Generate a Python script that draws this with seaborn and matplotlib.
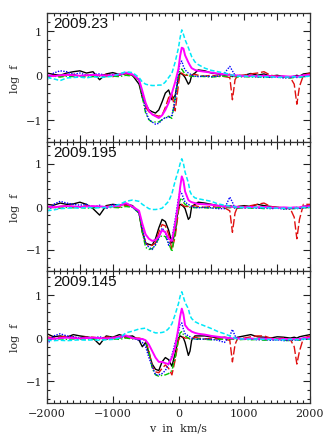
import matplotlib
matplotlib.use("Agg")
import matplotlib.pyplot as plt
from matplotlib.ticker import MultipleLocator, FixedLocator
import seaborn as sns

sns.set_style("ticks")
plt.rcParams['font.family'] = ['DejaVu Serif']

# velocity grid (km/s)
velocity = [-2000, -1900, -1800, -1700, -1600, -1500, -1400, -1300, -1200, -1100, -1000, -900, -800, -700, -600,
            -550, -500, -450, -400, -350, -300, -250, -200, -150, -100, -50,
            0, 25, 50, 75, 100,
            150, 175, 200, 250, 300,
            400, 500, 600, 700,
            780, 820, 860, 900,
            1000, 1100, 1200, 1300, 1400, 1500, 1600, 1700,
            1760, 1800, 1840, 1900, 2000]

epochs = ["2009.23", "2009.195", "2009.145"]

# ---- 2009.23 ----
p1_black = [0.05,0.02,0.00,0.05,0.08,0.10,0.05,0.08,-0.10,0.03,0.06,0.02,0.05,0.00,-0.20,
            -0.50,-0.65,-0.78,-0.82,-0.85,-0.78,-0.60,-0.40,-0.33,-0.55,-0.45,
            -0.05,0.05,0.03,0.00,-0.05,
            -0.20,-0.15,0.00,0.05,0.12,
            0.10,0.05,0.03,0.00,
            0.02,-0.03,0.00,-0.02,
            0.00,0.04,0.00,0.03,-0.02,0.00,-0.03,-0.05,
            -0.02,0.00,-0.02,0.03,0.05]
p1_red = [-0.02,0.00,-0.03,0.00,0.02,-0.02,0.00,-0.02,0.00,0.02,-0.03,0.00,0.03,0.00,-0.10,
          -0.45,-0.72,-0.82,-0.88,-0.90,-0.92,-0.90,-0.72,-0.50,-0.43,-0.80,
          -0.20,0.05,0.05,0.02,0.00,
          0.00,-0.02,0.00,0.02,0.00,
          -0.02,0.00,-0.02,-0.03,
          -0.05,-0.55,-0.10,0.00,
          0.00,0.03,0.05,0.08,0.00,-0.02,-0.03,-0.05,
          -0.20,-0.65,-0.25,0.00,0.05]
p1_green = [-0.03,-0.02,-0.04,-0.02,-0.03,-0.02,-0.04,-0.03,-0.02,-0.03,-0.02,-0.03,0.00,-0.02,-0.10,
            -0.50,-0.85,-1.00,-1.05,-1.05,-1.05,-1.00,-0.95,-0.92,-0.97,-0.50,
            0.00,0.12,0.14,0.08,0.03,
            0.00,-0.02,-0.02,-0.03,-0.02,
            -0.03,-0.04,-0.03,-0.02,
            -0.03,-0.02,-0.03,-0.04,
            -0.03,-0.04,-0.03,-0.05,-0.04,-0.03,-0.05,-0.06,
            -0.05,-0.04,-0.05,-0.03,-0.02]
p1_blue = [-0.10,0.05,0.10,0.08,0.02,0.05,0.00,0.02,0.03,0.00,0.02,0.00,0.05,0.02,-0.10,
           -0.40,-0.80,-1.00,-1.05,-1.10,-1.08,-1.00,-0.95,-0.95,-0.90,-0.55,
           0.10,0.28,0.32,0.20,0.12,
           0.05,0.03,0.00,-0.02,-0.03,
           -0.02,-0.03,-0.02,0.05,
           0.20,0.10,0.00,-0.02,
           -0.03,-0.02,-0.04,-0.03,-0.05,-0.04,-0.06,-0.05,
           -0.04,-0.05,-0.04,-0.03,-0.02]
p1_magenta = [0.00,-0.02,0.00,0.01,0.00,-0.01,0.00,0.01,0.00,-0.01,0.00,0.02,0.06,0.02,-0.10,
              -0.35,-0.62,-0.80,-0.88,-0.92,-0.96,-0.90,-0.78,-0.62,-0.40,-0.15,
              0.15,0.44,0.62,0.60,0.45,
              0.29,0.22,0.16,0.12,0.10,
              0.08,0.06,0.04,0.02,
              0.01,0.00,-0.01,0.00,
              -0.02,-0.01,-0.02,-0.01,-0.02,-0.03,-0.02,-0.03,
              -0.02,-0.03,-0.02,0.00,0.01]
p1_cyan = [-0.05,-0.08,-0.12,-0.06,-0.05,-0.04,-0.06,-0.03,-0.05,-0.04,-0.02,0.03,0.08,0.06,-0.05,
           -0.15,-0.20,-0.22,-0.23,-0.23,-0.22,-0.22,-0.15,-0.05,0.05,0.30,
           0.62,0.85,1.02,0.92,0.80,
           0.62,0.52,0.42,0.30,0.24,
           0.16,0.11,0.08,0.05,
           0.02,0.00,0.00,-0.02,
           -0.02,-0.03,-0.02,-0.04,-0.03,-0.05,-0.04,-0.04,
           -0.03,-0.05,-0.04,-0.03,-0.02]

# ---- 2009.195 ----
p2_black = [0.05,0.03,0.08,0.05,0.06,0.10,0.05,-0.05,-0.20,0.02,0.05,0.03,0.06,0.02,-0.15,
            -0.60,-0.85,-0.88,-0.90,-0.75,-0.50,-0.30,-0.35,-0.55,-0.85,-0.60,
            0.00,0.05,0.03,0.00,-0.05,
            -0.30,-0.25,0.00,0.05,0.10,
            0.08,0.05,0.02,0.00,
            0.02,0.00,-0.02,0.00,
            0.02,0.00,0.05,0.02,0.00,-0.02,-0.03,-0.05,
            -0.03,-0.02,-0.04,0.00,0.03]
p2_red = [0.00,-0.02,0.00,0.02,0.00,-0.02,0.02,0.00,-0.02,0.00,0.02,-0.02,0.03,0.00,-0.15,
          -0.55,-0.85,-0.92,-0.90,-0.85,-0.60,-0.42,-0.45,-0.65,-1.00,-0.70,
          -0.10,0.05,0.05,0.02,0.00,
          0.00,-0.02,0.00,0.02,0.00,
          -0.02,0.00,-0.02,-0.03,
          -0.10,-0.60,-0.15,0.00,
          0.00,0.02,0.05,0.08,0.00,-0.02,-0.03,-0.05,
          -0.25,-0.75,-0.30,0.05,0.05]
p2_green = [-0.03,-0.02,-0.04,-0.02,-0.03,-0.02,-0.04,-0.03,-0.02,-0.03,-0.02,-0.03,0.00,-0.02,-0.15,
            -0.60,-0.95,-1.00,-0.98,-0.90,-0.72,-0.68,-0.70,-0.85,-1.05,-0.60,
            0.00,0.15,0.20,0.10,0.05,
            0.00,-0.02,-0.02,-0.03,-0.02,
            -0.03,-0.04,-0.03,-0.02,
            -0.03,-0.02,-0.03,-0.04,
            -0.03,-0.04,-0.03,-0.05,-0.04,-0.03,-0.05,-0.06,
            -0.05,-0.04,-0.05,-0.03,-0.02]
p2_blue = [-0.15,0.05,0.12,0.08,0.05,0.03,0.05,-0.02,0.03,-0.05,0.05,0.02,0.08,-0.02,-0.15,
           -0.50,-0.85,-0.95,-1.00,-0.88,-0.75,-0.50,-0.60,-0.90,-0.75,-0.30,
           0.20,0.35,0.30,0.20,0.10,
           0.05,0.03,0.00,-0.02,-0.03,
           -0.02,-0.03,-0.05,-0.05,
           0.22,0.10,-0.05,-0.02,
           -0.03,-0.02,-0.04,-0.03,-0.05,-0.04,-0.06,-0.05,
           -0.04,-0.05,-0.04,-0.03,-0.02]
p2_magenta = [0.00,-0.02,0.00,0.01,0.00,-0.01,0.00,0.01,0.00,-0.01,0.00,0.02,0.08,0.00,-0.10,
              -0.40,-0.65,-0.75,-0.80,-0.78,-0.70,-0.55,-0.60,-0.75,-0.80,-0.40,
              0.10,0.45,0.70,0.60,0.35,
              0.15,0.12,0.10,0.08,0.06,
              0.05,0.04,0.02,0.00,
              0.00,-0.01,0.00,-0.01,
              -0.02,-0.01,-0.02,-0.01,-0.02,-0.03,-0.02,-0.03,
              -0.02,-0.03,-0.02,0.00,0.01]
p2_cyan = [-0.10,-0.08,-0.05,-0.04,-0.03,-0.04,-0.02,-0.03,-0.03,-0.02,0.00,0.05,0.12,0.15,0.12,
           0.05,0.00,-0.05,-0.07,-0.07,-0.06,-0.04,0.04,0.12,0.30,0.60,
           0.85,1.00,1.11,1.00,0.80,
           0.55,0.35,0.27,0.20,0.18,
           0.15,0.12,0.06,0.03,
           0.01,0.00,-0.01,-0.02,
           -0.02,-0.03,-0.02,-0.03,-0.03,-0.04,-0.04,-0.03,
           -0.03,-0.04,-0.03,-0.02,-0.02]

# ---- 2009.145 ----
p3_black = [0.10,0.03,0.05,0.02,0.08,0.05,0.03,0.00,-0.15,0.05,0.02,0.08,0.03,0.05,-0.05,
            -0.20,-0.10,-0.35,-0.60,-0.72,-0.75,-0.55,-0.45,-0.50,-0.65,-0.35,
            0.00,0.05,0.03,0.00,-0.10,
            -0.40,-0.30,-0.05,0.05,0.05,
            0.05,0.03,0.00,0.02,
            0.00,-0.02,0.00,0.02,
            0.05,0.08,0.03,0.02,0.00,0.03,0.02,0.00,
            0.02,0.00,0.03,0.05,0.08]
p3_red = [0.03,0.00,0.02,0.05,0.02,0.00,0.03,0.02,0.00,0.02,0.03,0.00,0.02,0.00,0.00,
          -0.02,-0.05,-0.30,-0.65,-0.78,-0.80,-0.70,-0.62,-0.70,-0.85,-0.50,
          -0.05,0.02,0.03,0.02,0.00,
          0.00,-0.02,0.00,0.02,0.00,
          -0.02,0.00,-0.02,-0.03,
          -0.05,-0.55,-0.15,0.00,
          0.00,0.03,0.05,0.05,0.00,-0.02,0.00,-0.03,
          -0.20,-0.60,-0.30,0.00,0.05]
p3_green = [-0.02,-0.03,-0.02,-0.03,-0.02,-0.03,-0.02,-0.03,-0.02,-0.03,-0.02,-0.03,0.00,-0.02,-0.03,
            -0.03,-0.05,-0.30,-0.70,-0.85,-0.88,-0.86,-0.85,-0.82,-0.75,-0.45,
            0.00,0.12,0.15,0.08,0.05,
            0.00,-0.02,-0.02,-0.03,-0.02,
            -0.03,-0.04,-0.03,-0.02,
            -0.03,-0.02,-0.03,-0.04,
            -0.03,-0.04,-0.03,-0.05,-0.04,-0.03,-0.05,-0.06,
            -0.05,-0.04,-0.05,-0.03,-0.02]
p3_blue = [-0.15,0.05,0.10,0.05,0.03,0.00,0.02,0.00,0.03,-0.02,0.02,0.00,0.05,0.00,-0.05,
           -0.10,-0.20,-0.45,-0.65,-0.85,-0.85,-0.82,-0.75,-0.60,-0.40,-0.10,
           0.15,0.32,0.35,0.20,0.10,
           0.05,0.03,0.00,-0.02,-0.03,
           -0.02,-0.03,-0.05,-0.10,
           0.05,0.20,0.05,0.00,
           -0.03,-0.02,-0.04,-0.03,-0.05,-0.04,-0.06,-0.05,
           -0.04,-0.05,-0.04,-0.03,-0.02]
p3_magenta = [0.00,-0.02,0.00,0.01,0.00,-0.01,0.00,0.01,0.00,-0.01,0.00,0.03,0.06,0.00,-0.02,
              -0.02,-0.05,-0.15,-0.30,-0.45,-0.55,-0.55,-0.58,-0.60,-0.45,-0.20,
              0.25,0.50,0.68,0.55,0.30,
              0.20,0.18,0.15,0.12,0.10,
              0.08,0.05,0.03,0.01,
              0.00,-0.01,0.00,-0.01,
              -0.02,-0.01,-0.02,-0.01,-0.02,-0.03,-0.02,-0.03,
              -0.02,-0.03,-0.02,0.00,0.01]
p3_cyan = [-0.05,-0.06,-0.05,-0.06,-0.05,-0.04,-0.05,-0.04,-0.05,-0.04,-0.03,0.00,0.12,0.16,0.21,
           0.22,0.23,0.18,0.15,0.12,0.12,0.13,0.15,0.22,0.33,0.55,
           0.80,0.97,1.07,0.95,0.82,
           0.68,0.52,0.45,0.38,0.34,
           0.28,0.22,0.15,0.10,
           0.05,0.02,0.00,-0.02,
           -0.02,-0.03,-0.02,-0.03,-0.03,-0.04,-0.04,-0.03,
           -0.03,-0.04,-0.03,-0.02,-0.02]

panels = [
    [p1_black, p1_red, p1_green, p1_blue, p1_magenta, p1_cyan],
    [p2_black, p2_red, p2_green, p2_blue, p2_magenta, p2_cyan],
    [p3_black, p3_red, p3_green, p3_blue, p3_magenta, p3_cyan],
]
series_names = ["black", "red", "green", "blue", "magenta", "cyan"]

styles = {
    "black":   dict(color="#000000", lw=1.0, ls="-"),
    "red":     dict(color="#e01010", lw=1.0, ls=(0, (6, 2))),
    "green":   dict(color="#00c800", lw=1.0, ls=(0, (4, 1.5, 1, 1.5))),
    "blue":    dict(color="#0000ff", lw=1.0, ls=(0, (1, 1))),
    "magenta": dict(color="#ff00ff", lw=1.4, ls="-"),
    "cyan":    dict(color="#00e8f8", lw=1.1, ls=(0, (3, 1.5))),
}

W, H = 327, 439
fig = plt.figure(figsize=(W / 100, H / 100), dpi=100)
left = 47 / W
width = 263 / W
bounds_px = [(14, 143), (143, 272), (272, 404)]
ylims = [(-1.5, 1.4), (-1.5, 1.5), (-1.5, 1.55)]

for i, (top_px, bot_px) in enumerate(bounds_px):
    ax = fig.add_axes([left, 1 - bot_px / H, width, (bot_px - top_px) / H])
    for name, vals in zip(series_names, panels[i]):
        st = styles[name]
        sns.lineplot(x=velocity, y=vals, ax=ax, color=st["color"], linewidth=st["lw"],
                     linestyle=st["ls"], estimator=None, sort=False)
    ax.set_xlim(-2000, 2000)
    ax.set_ylim(*ylims[i])
    ax.xaxis.set_major_locator(MultipleLocator(500))
    ax.xaxis.set_minor_locator(MultipleLocator(100))
    ax.yaxis.set_major_locator(FixedLocator([-1, 0, 1]))
    ax.yaxis.set_minor_locator(MultipleLocator(0.2))
    ax.tick_params(which="both", direction="in", top=True, right=True, colors="#222222",
                   labelsize=8)
    ax.tick_params(which="major", length=5, width=0.8)
    ax.tick_params(which="minor", length=2.5, width=0.8)
    for s in ax.spines.values():
        s.set_linewidth(0.9)
        s.set_color("#333333")
    ax.set_yticklabels(["\u22121", "0", "1"])
    ax.set_ylabel("log  f", fontsize=8, labelpad=4)
    if i < 2:
        ax.set_xticklabels([])
        ax.set_xlabel("")
    else:
        ax.set_xticks([-2000, -1000, 0, 1000, 2000], labels=["\u22122000", "\u22121000", "0", "1000", "2000"])
        ax.xaxis.set_minor_locator(MultipleLocator(100))
        ax.set_xlabel("v  in  km/s", fontsize=8, labelpad=3)
    ax.text(0.022, 0.975, epochs[i], transform=ax.transAxes, ha="left", va="top",
            fontsize=11, family="Liberation Sans", color="#111111")

fig.savefig("out.png", dpi=100)
